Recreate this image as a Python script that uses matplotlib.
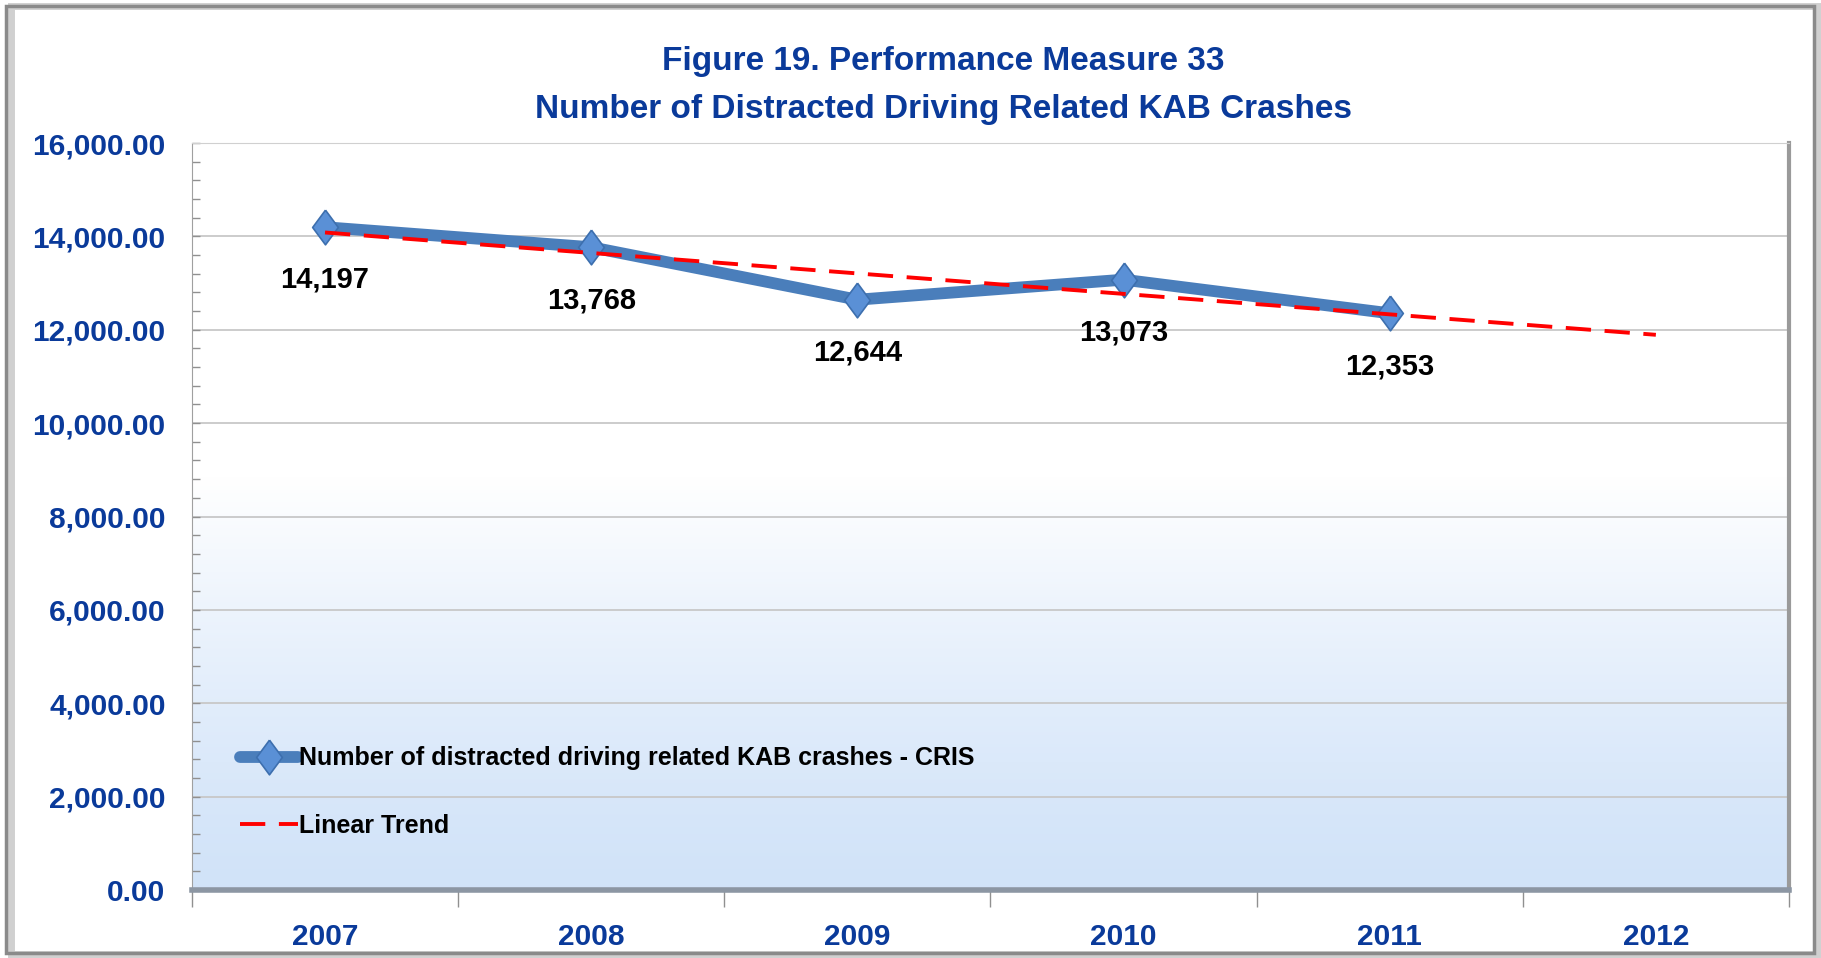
import numpy as np
import matplotlib
matplotlib.use("Agg")
import matplotlib.pyplot as plt
from matplotlib.patches import Rectangle
from matplotlib.ticker import MultipleLocator, FuncFormatter

# chart data
years = ["2007", "2008", "2009", "2010", "2011", "2012"]
crash_years = [2007, 2008, 2009, 2010, 2011]
crashes = [14197, 13768, 12644, 13073, 12353]

title = "Figure 19. Performance Measure 33\nNumber of Distracted Driving Related KAB Crashes"
series_label = "Number of distracted driving related KAB crashes - CRIS"
trend_label = "Linear Trend"

NAVY = "#0a3a9a"
BLUE = "#4a7ebb"
plt.rcParams["font.family"] = ["Liberation Sans Narrow", "Liberation Sans", "DejaVu Sans"]
plt.rcParams["font.weight"] = "bold"

# a diamond a bit taller than wide, like the Excel marker
diamond = [(0, 1), (0.74, 0), (0, -1), (-0.74, 0), (0, 1)]

fig = plt.figure(figsize=(18.21, 9.58), dpi=100)
ax = fig.add_axes([0.1054, 0.0710, 0.8770, 0.7797])

# category slots: edges on integers, points in the middle
xpos = np.arange(len(years)) + 0.5
xdata = np.array([years.index(str(y)) for y in crash_years]) + 0.5

# backdrop: white in the upper half, fading to pale blue at the floor
t = np.linspace(0, 1, 256)[:, None]          # 0 = bottom, 1 = top
f = np.clip(t / 0.55, 0, 1) ** 1.3
top = np.array([1.0, 1.0, 1.0])
bot = np.array([0.82, 0.89, 0.975])
img = bot + (top - bot) * f[..., None]
img = np.repeat(img, 2, axis=1)
ax.imshow(img, extent=[0, 6, 0, 16000], aspect="auto", origin="lower", zorder=0)

ax.set_xlim(0, 6)
ax.set_ylim(0, 16000)

for v in range(2000, 16001, 2000):
    ax.axhline(v, color="#c8c8c8", lw=1.3, zorder=1)

ax.plot(xdata, crashes, color=BLUE, lw=8.5, solid_capstyle="round", zorder=3,
        marker=diamond, markersize=25, markerfacecolor="#5a90d6",
        markeredgecolor="#3d6fae", markeredgewidth=1.2, label=series_label)

# linear trend fitted on the observed years, forecast one period ahead
k, b = np.polyfit(np.arange(1, len(crashes) + 1), crashes, 1)
tx = np.arange(1, len(years) + 1)
ax.plot(xpos, k * tx + b, color="#ff0000", lw=2.8, dashes=(6.5, 3.5), zorder=4,
        label=trend_label)

for x, v in zip(xdata, crashes):
    ax.annotate(f"{v:,}", (x, v), xytext=(0, -38), textcoords="offset points",
                ha="center", va="center", fontsize=21, fontweight="bold",
                color="black", zorder=6)

ax.yaxis.set_major_locator(MultipleLocator(2000))
ax.yaxis.set_minor_locator(MultipleLocator(400))
ax.yaxis.set_major_formatter(FuncFormatter(lambda v, p: f"{v:,.2f}"))
ax.tick_params(axis="y", which="both", direction="in", length=6, width=1,
               color="#909090", labelsize=21.5, labelcolor=NAVY, pad=19)
ax.set_xticks(np.arange(0, 7))
ax.set_xticklabels([])
ax.set_xticks(xpos, minor=True)
ax.set_xticklabels(years, minor=True)
ax.tick_params(axis="x", which="major", direction="out", length=12, width=1,
               color="#909090")
ax.tick_params(axis="x", which="minor", length=0, labelsize=21.5,
               labelcolor=NAVY, pad=24)
for lab in ax.get_xticklabels(minor=True) + ax.get_yticklabels():
    lab.set_fontweight("bold")

ax.spines["left"].set_color("#a0a0a0")
ax.spines["top"].set_color("#d0d0d0")
ax.spines["right"].set_color("#9a9a9a")
ax.spines["right"].set_linewidth(3)
ax.spines["bottom"].set_color("#8c96a3")
ax.spines["bottom"].set_linewidth(4)

leg = ax.legend(loc="lower left", bbox_to_anchor=(0.024, 0.056), frameon=False,
                fontsize=18, handlelength=2.3, handletextpad=0.05,
                labelspacing=1.75, borderaxespad=0)
for txt in leg.get_texts():
    txt.set_fontweight("bold")

fig.text(0.518, 0.911, title, ha="center", va="center", fontsize=24,
         fontweight="bold", color=NAVY, linespacing=1.7)

# outer frame with a soft shadow
fig.patches.append(Rectangle((0.006, 0.004), 0.992, 0.990, transform=fig.transFigure,
                             fill=False, ec="#d0d0d0", lw=5, zorder=0))
fig.patches.append(Rectangle((0.0035, 0.0055), 0.9925, 0.988, transform=fig.transFigure,
                             fill=False, ec="#8a8a8a", lw=2.5, zorder=1))

fig.savefig("out.png", dpi=100, facecolor="white")
